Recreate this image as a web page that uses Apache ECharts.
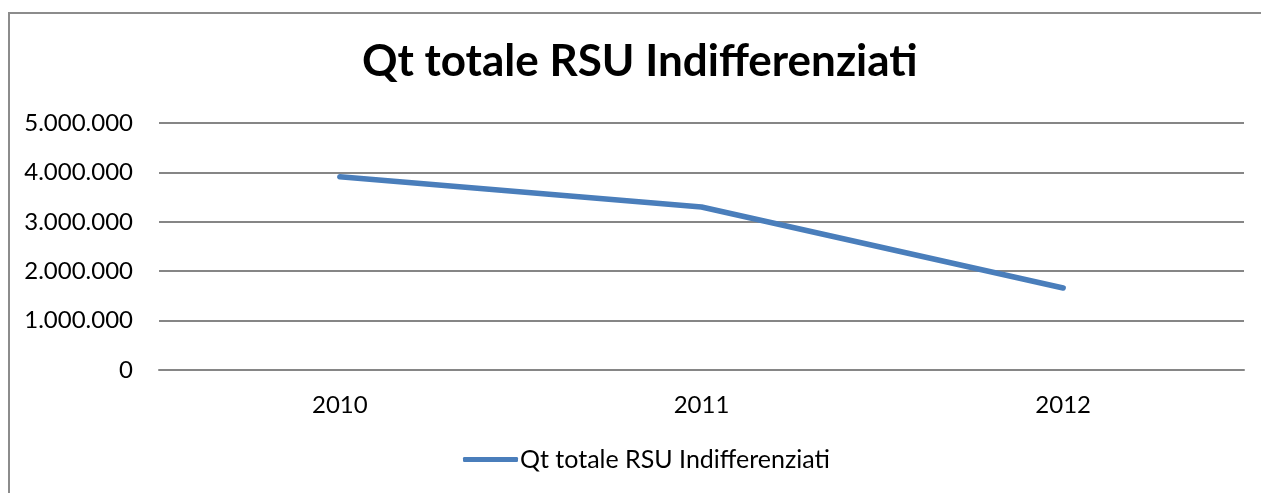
<!DOCTYPE html>
<html>
<head>
<meta charset="utf-8">
<script src="https://cdn.jsdelivr.net/npm/echarts@6/dist/echarts.min.js"></script>
<style>
  html, body { margin: 0; padding: 0; background: #fff; overflow: hidden; }
  #frame {
    position: absolute; left: 8px; top: 12px;
    width: 1300px; height: 520px;
    border: 2px solid #8c8c8c;
  }
  #chart { position: absolute; left: 0; top: 0; width: 1261px; height: 493px; }
</style>
</head>
<body>
<div id="frame"></div>
<div id="chart"></div>
<script>
const years = ['2010', '2011', '2012']
const quantities = [3910000, 3300000, 1660000]
const seriesName = 'Qt totale RSU Indifferenziati'

// formato italiano con punti per le migliaia
function fmt(v) {
  return String(v).replace(/\B(?=(\d{3})+(?!\d))/g, '.')
}

const chart = echarts.init(document.getElementById('chart'))

const option = {
  animation: false,
  textStyle: { fontFamily: 'Lato' },
  title: {
    text: 'Qt totale RSU Indifferenziati',
    left: 362,
    top: 40,
    padding: 0,
    textStyle: { fontFamily: 'Lato', fontSize: 44, fontWeight: 'bold', color: '#000' }
  },
  legend: {
    bottom: 16,
    left: 458,
    itemWidth: 55,
    itemHeight: 5,
    itemGap: 2,
    icon: 'roundRect',
    textStyle: { fontFamily: 'Lato', fontSize: 25, color: '#000', padding: [0, 0, 0, -3] },
    data: [seriesName]
  },
  grid: { left: 159, right: 17, top: 123, bottom: 123 },
  xAxis: {
    type: 'category',
    data: years,
    axisLine: { lineStyle: { color: '#868686', width: 2 } },
    axisTick: { show: false },
    axisLabel: { color: '#000', fontSize: 24, margin: 23, fontFamily: 'Lato' }
  },
  yAxis: {
    type: 'value',
    min: 0,
    max: 5000000,
    interval: 1000000,
    axisLine: { show: false },
    axisTick: { show: false },
    splitLine: { lineStyle: { color: '#868686', width: 2 } },
    axisLabel: { color: '#000', fontSize: 24, margin: 26, fontFamily: 'Lato', formatter: fmt }
  },
  series: [
    {
      name: seriesName,
      type: 'line',
      data: quantities,
      showSymbol: false,
      symbol: 'none',
      lineStyle: { color: '#4a7ebb', width: 5.5, cap: 'round', join: 'round' },
      itemStyle: { color: '#4a7ebb' }
    }
  ]
}

chart.setOption(option)
</script>
</body>
</html>
